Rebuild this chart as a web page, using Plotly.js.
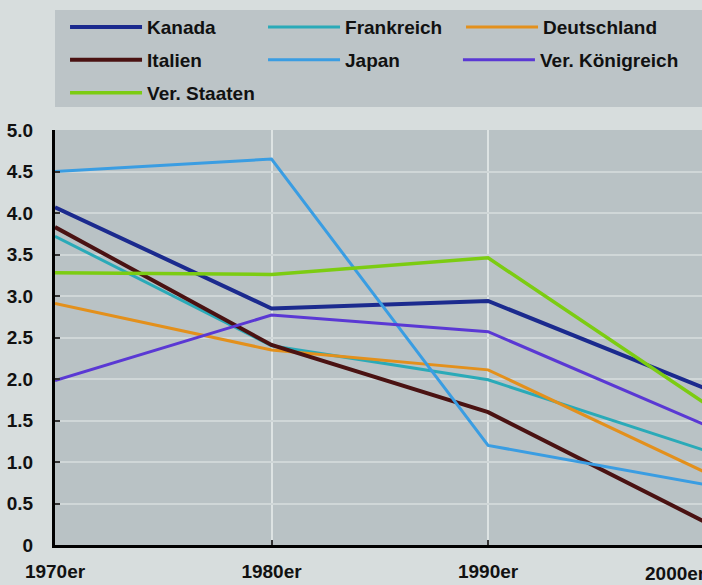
<!DOCTYPE html>
<html>
<head>
<meta charset="utf-8">
<script src="https://cdn.plot.ly/plotly-3.0.1.min.js"></script>
<style>html,body{margin:0;padding:0;background:#d7dddd;}#chart{width:702px;height:585px;}</style>
</head>
<body>
<div id="chart"></div>
<script>
var decades = ["1970er", "1980er", "1990er", "2000er"];
var kanada = [4.07, 2.85, 2.94, 1.89];
var frankreich = [3.72, 2.40, 1.99, 1.14];
var deutschland = [2.91, 2.35, 2.11, 0.88];
var italien = [3.83, 2.41, 1.60, 0.28];
var japan = [4.50, 4.65, 1.20, 0.73];
var koenigreich = [1.98, 2.77, 2.57, 1.45];
var staaten = [3.28, 3.26, 3.46, 1.71];
var yTickVals = [0, 0.5, 1, 1.5, 2, 2.5, 3, 3.5, 4, 4.5, 5];
var yTickText = ["0", "0.5", "1.0", "1.5", "2.0", "2.5", "3.0", "3.5", "4.0", "4.5", "5.0"];

var series = [
  {name: "Kanada", y: kanada, color: "#1b2a8e", w: 4, legend: "legend"},
  {name: "Frankreich", y: frankreich, color: "#2aaab8", w: 3, legend: "legend"},
  {name: "Deutschland", y: deutschland, color: "#e3901c", w: 3, legend: "legend"},
  {name: "Italien", y: italien, color: "#4a1212", w: 4, legend: "legend2"},
  {name: "Japan", y: japan, color: "#3a9de2", w: 3, legend: "legend2"},
  {name: "Ver. Königreich", y: koenigreich, color: "#5a38d4", w: 3, legend: "legend4"},
  {name: "Ver. Staaten", y: staaten, color: "#7ccc12", w: 3.5, legend: "legend3"}
];

var traces = series.map(function (s) {
  return {
    type: "scatter", mode: "lines", x: decades, y: s.y, name: s.name,
    line: {color: s.color, width: s.w}, legend: s.legend, hoverinfo: "skip"
  };
});

var fontBold = {family: "Liberation Sans, Arial, sans-serif", size: 19, color: "#111", weight: "bold"};
function leg(xPos, yPos, fixedWidth) {
  var l = {
    orientation: "h", x: xPos, xanchor: "left", y: yPos, yanchor: "middle",
    bgcolor: "rgba(0,0,0,0)", font: fontBold,
    itemwidth: 72, traceorder: "normal"
  };
  if (fixedWidth) { l.entrywidth = 111; l.entrywidthmode = "pixels"; }
  return l;
}

var layout = {
  width: 702, height: 585,
  margin: {l: 55, r: 0, t: 130, b: 40, autoexpand: false},
  paper_bgcolor: "#d7dddd",
  plot_bgcolor: "#b9c2c5",
  showlegend: true,
  hovermode: false,
  font: fontBold,
  xaxis: {
    type: "category", range: [0, 2.988],
    tickvals: decades.slice(0, 3), ticktext: decades.slice(0, 3),
    showgrid: true, gridcolor: "#dde3e3", gridwidth: 2,
    showline: true, linecolor: "#000", linewidth: 3,
    ticks: "inside", ticklen: 5, tickwidth: 2, tickcolor: "#333",
    tickfont: fontBold, ticklabelstandoff: 7, zeroline: false, fixedrange: true
  },
  yaxis: {
    range: [0, 5], tickvals: yTickVals, ticktext: yTickText,
    showgrid: true, gridcolor: "#d0d7d8", gridwidth: 2,
    showline: true, linecolor: "#000", linewidth: 3,
    ticks: "inside", ticklen: 5, tickwidth: 2, tickcolor: "#333",
    tickfont: fontBold, ticklabelstandoff: 15, zeroline: false, fixedrange: true
  },
  shapes: [{
    type: "rect", xref: "paper", yref: "paper", x0: 0, x1: 1.01,
    y0: 1.0554, y1: 1.289, fillcolor: "#bcc4c7", line: {width: 0}, layer: "below"
  }],
  annotations: [{
    xref: "paper", yref: "paper", x: 1.003, y: 0, xanchor: "right", yanchor: "top",
    yshift: -16, xshift: 4, text: decades[3], showarrow: false, font: fontBold
  }],
  legend: leg(0.0155, 1.248, true),
  legend2: leg(0.0155, 1.1687, true),
  legend3: leg(0.0155, 1.0892, true),
  legend4: leg(0.6228, 1.1687, false)
};

Plotly.newPlot("chart", traces, layout, {displayModeBar: false, staticPlot: true});
</script>
</body>
</html>
